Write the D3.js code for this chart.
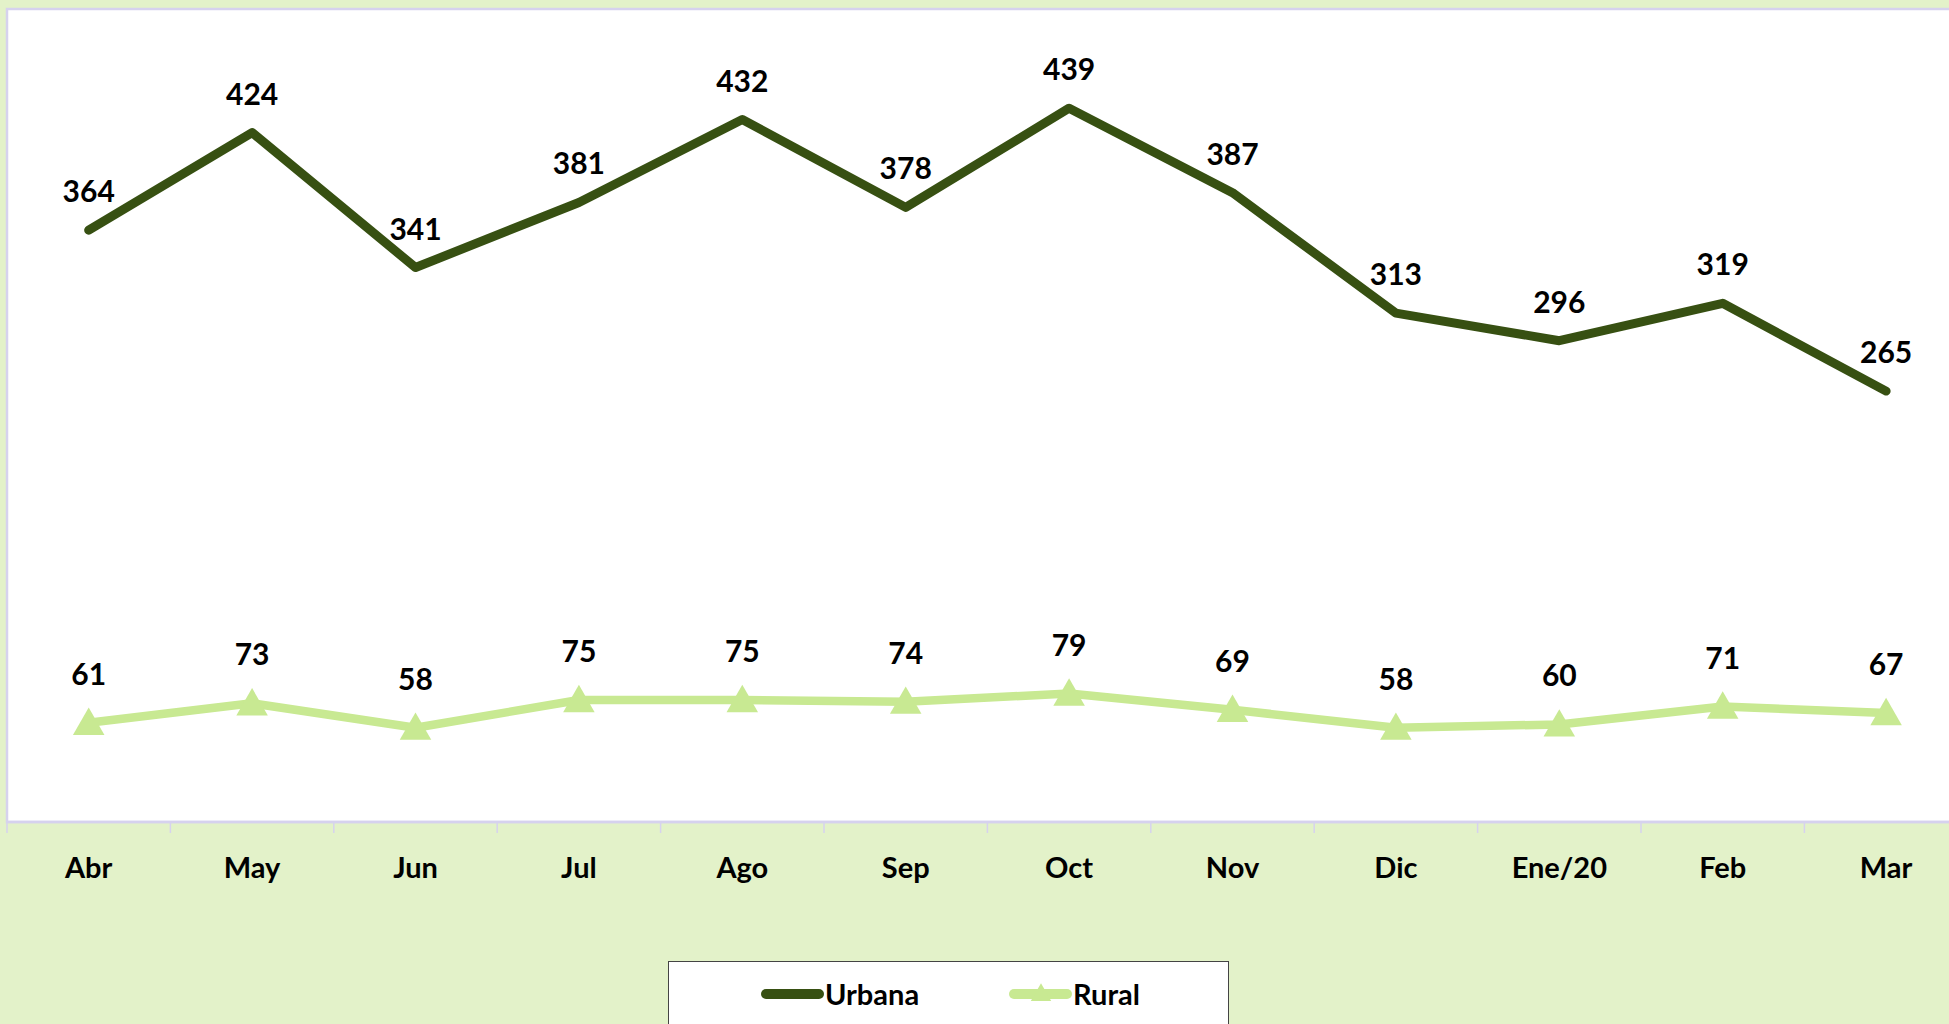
<!DOCTYPE html>
<html>
<head>
<meta charset="utf-8">
<script src="https://cdn.jsdelivr.net/npm/d3@7"></script>
<style>
  body { margin: 0; background: #e3f2c9; }
  svg { display: block; font-family: Lato, "Open Sans", sans-serif; font-weight: bold; }
</style>
</head>
<body>
<script>
var months = ["Abr","May","Jun","Jul","Ago","Sep","Oct","Nov","Dic","Ene/20","Feb","Mar"];
var urbana = [364, 424, 341, 381, 432, 378, 439, 387, 313, 296, 319, 265];
var rural  = [61, 73, 58, 75, 75, 74, 79, 69, 58, 60, 71, 67];
var seriesNames = ["Urbana", "Rural"];

var W = 1949, H = 1024;
var plot = {left: 7, top: 9, bottom: 822, band: 163.4};

var darkGreen = "#375012",
    lightGreen = "#c8e992",
    frame = "#d6d2ee";

var svg = d3.select("body").append("svg")
    .attr("width", W)
    .attr("height", H);

svg.append("rect")
    .attr("width", W).attr("height", H)
    .attr("fill", "#e3f2c9");

var xScale = d3.scaleBand()
    .domain(months)
    .range([plot.left, plot.left + plot.band * months.length]);

var yScale = d3.scaleLinear()
    .domain([0, 500])
    .range([plot.bottom, plot.top]);

function cx(d, i) { return xScale(months[i]) + xScale.bandwidth() / 2; }

// plot area
svg.append("rect")
    .attr("x", plot.left)
    .attr("y", plot.top)
    .attr("width", W + 20)
    .attr("height", plot.bottom - plot.top)
    .attr("fill", "#ffffff")
    .attr("stroke", frame)
    .attr("stroke-width", 2.5);

// x axis
var xAxis = d3.axisBottom(xScale).tickSize(0).tickPadding(0);
var gx = svg.append("g")
    .attr("transform", "translate(0," + plot.bottom + ")")
    .call(xAxis);
gx.select(".domain").remove();
gx.selectAll("text")
    .attr("dy", 0)
    .attr("y", 56)
    .attr("fill", "#000")
    .style("font-size", "29px")
    .style("font-family", "Lato, 'Open Sans', sans-serif")
    .style("font-weight", "bold");

var tickPos = months.map(function(m) { return xScale(m); }).concat([xScale.range()[1]]);
svg.selectAll(".xtick").data(tickPos).enter().append("line")
    .attr("class", "xtick")
    .attr("x1", function(d) { return d; })
    .attr("x2", function(d) { return d; })
    .attr("y1", plot.bottom)
    .attr("y2", plot.bottom + 11)
    .attr("stroke", frame)
    .attr("stroke-width", 1.5);

svg.append("line")
    .attr("x1", plot.left).attr("x2", W)
    .attr("y1", plot.bottom).attr("y2", plot.bottom)
    .attr("stroke", frame)
    .attr("stroke-width", 2.5);

var line = d3.line()
    .x(cx)
    .y(function(d) { return yScale(d); });

// Urbana
svg.append("path")
    .datum(urbana)
    .attr("d", line)
    .attr("fill", "none")
    .attr("stroke", darkGreen)
    .attr("stroke-width", 9)
    .attr("stroke-linejoin", "round")
    .attr("stroke-linecap", "round");

// Rural
svg.append("path")
    .datum(rural)
    .attr("d", line)
    .attr("fill", "none")
    .attr("stroke", lightGreen)
    .attr("stroke-width", 8.5)
    .attr("stroke-linejoin", "round");

var tri = d3.symbol().type(d3.symbolTriangle).size(430);
svg.selectAll(".tri").data(rural).enter().append("path")
    .attr("class", "tri")
    .attr("d", tri)
    .attr("transform", function(d, i) { return "translate(" + cx(d, i) + "," + (yScale(d) + 3) + ")"; })
    .attr("fill", lightGreen);

// labels
svg.selectAll(".lblU").data(urbana).enter().append("text")
    .attr("class", "lblU")
    .attr("x", cx)
    .attr("y", function(d) { return yScale(d) - 28; })
    .attr("text-anchor", "middle")
    .style("font-size", "30px")
    .text(function(d) { return d; });

svg.selectAll(".lblR").data(rural).enter().append("text")
    .attr("class", "lblR")
    .attr("x", cx)
    .attr("y", function(d) { return yScale(d) - 38; })
    .attr("text-anchor", "middle")
    .style("font-size", "30px")
    .text(function(d) { return d; });

// legend
var legend = svg.append("g");
legend.append("rect")
    .attr("x", 668.5).attr("y", 961.5)
    .attr("width", 560).attr("height", 80)
    .attr("fill", "#fff")
    .attr("stroke", "#444")
    .attr("stroke-width", 1);

var legItems = [
  {name: seriesNames[0], x: 762, color: darkGreen, marker: false},
  {name: seriesNames[1], x: 1010, color: lightGreen, marker: true}
];
var li = legend.selectAll(".li").data(legItems).enter().append("g")
    .attr("transform", function(d) { return "translate(" + d.x + ",994)"; });
li.append("line")
    .attr("x1", 4).attr("x2", 57)
    .attr("stroke", function(d) { return d.color; })
    .attr("stroke-width", 10)
    .attr("stroke-linecap", "round");
li.filter(function(d) { return d.marker; }).append("path")
    .attr("d", d3.symbol().type(d3.symbolTriangle).size(180))
    .attr("transform", "translate(31,1)")
    .attr("fill", function(d) { return d.color; });
li.append("text")
    .attr("x", 63)
    .attr("y", 11)
    .style("font-size", "29px")
    .text(function(d) { return d.name; });
</script>
</body>
</html>
